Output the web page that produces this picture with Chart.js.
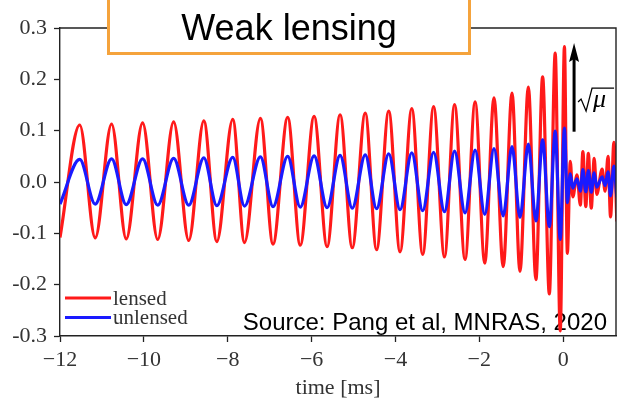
<!DOCTYPE html>
<html lang="en">
<head>
<meta charset="UTF-8">
<title>Weak lensing</title>
<script src="https://cdn.jsdelivr.net/npm/chart.js"></script>
<style>
  html, body { margin: 0; padding: 0; background: #ffffff; }
  #wrap { width: 625px; height: 401px; }
</style>
</head>
<body>
<div id="wrap"><canvas id="wave" width="625" height="401"></canvas></div>
<script>
    // turning points of the waveform, time in ms
    const time = [
        -12.00, -11.53, -11.16, -10.77, -10.42, -10.03, -9.67, -9.29, -8.93, -8.57,
        -8.26, -7.88, -7.60, -7.22, -6.92, -6.57, -6.27, -5.94, -5.63, -5.32,
        -5.03, -4.72, -4.45, -4.16, -3.89, -3.61, -3.35, -3.09, -2.83, -2.59,
        -2.34, -2.10, -1.87, -1.65, -1.43, -1.22, -1.03, -0.83, -0.65, -0.49,
        -0.33, -0.19, -0.07, 0.03, 0.10, 0.17, 0.23, 0.33, 0.41, 0.47,
        0.54, 0.60, 0.67, 0.74, 0.80, 0.93, 1.00, 1.07, 1.13, 1.21, 1.28
    ];
    const lensed = [
        -0.108, 0.111, -0.109, 0.113, -0.111, 0.115, -0.112, 0.117, -0.114, 0.119,
        -0.116, 0.122, -0.118, 0.124, -0.121, 0.126, -0.123, 0.128, -0.126, 0.131,
        -0.128, 0.134, -0.132, 0.138, -0.136, 0.143, -0.141, 0.147, -0.146, 0.151,
        -0.151, 0.156, -0.158, 0.164, -0.165, 0.173, -0.174, 0.185, -0.190, 0.205,
        -0.218, 0.251, -0.290, 0.264, -0.139, 0.040, -0.029, 0.014, -0.045, 0.059,
        -0.048, 0.056, -0.051, 0.046, -0.024, 0.025, -0.018, 0.050, -0.068, 0.077, -0.077
    ];
    const unlensed = [
        -0.043, 0.044, -0.043, 0.045, -0.044, 0.045, -0.045, 0.046, -0.045, 0.047,
        -0.046, 0.048, -0.047, 0.049, -0.048, 0.050, -0.049, 0.051, -0.050, 0.052,
        -0.051, 0.053, -0.052, 0.055, -0.054, 0.057, -0.056, 0.058, -0.058, 0.060,
        -0.060, 0.062, -0.063, 0.065, -0.066, 0.069, -0.069, 0.074, -0.076, 0.082,
        -0.087, 0.099, -0.112, 0.105, -0.040, 0.016, -0.012, 0.006, -0.018, 0.024,
        -0.019, 0.022, -0.020, 0.018, -0.010, 0.010, -0.007, 0.020, -0.027, 0.031, -0.030
    ];

    const xTicks = [-12, -10, -8, -6, -4, -2, 0];
    const xTickLabels = ['\u221212', '\u221210', '\u22128', '\u22126', '\u22124', '\u22122', '0'];
    const yTicks = [-0.3, -0.2, -0.1, 0.0, 0.1, 0.2, 0.3];
    const yTickLabels = ['-0.3', '-0.2', '-0.1', '0.0', '0.1', '0.2', '0.3'];

    const serif = '"Liberation Serif", "DejaVu Serif", serif';
    const sans = '"Liberation Sans", Arial, sans-serif';

    // top + right edges of the box around the plot
    const framePlugin = {
        id: 'frame',
        afterDatasetsDraw(chart) {
            const { ctx, chartArea: a } = chart;
            ctx.save();
            ctx.strokeStyle = '#222';
            ctx.lineWidth = 1.4;
            ctx.beginPath();
            ctx.moveTo(a.left, a.top);
            ctx.lineTo(a.right, a.top);
            ctx.lineTo(a.right, a.bottom);
            ctx.stroke();
            ctx.restore();
        }
    };

    // source note sits under the curves
    const sourcePlugin = {
        id: 'source',
        beforeDatasetsDraw(chart) {
            const { ctx, chartArea: a } = chart;
            ctx.save();
            ctx.font = '24px ' + sans;
            ctx.fillStyle = '#000';
            ctx.textAlign = 'right';
            ctx.textBaseline = 'alphabetic';
            ctx.fillText('Source: Pang et al, MNRAS, 2020', a.right - 9, a.bottom - 6);
            ctx.restore();
        }
    };

    // legend, sqrt(mu) arrow and the title box
    const overlayPlugin = {
        id: 'overlay',
        afterDraw(chart) {
            const { ctx, chartArea: a, scales } = chart;
            ctx.save();

            // legend in the lower left corner
            ctx.font = '21px ' + serif;
            ctx.textBaseline = 'middle';
            ctx.textAlign = 'left';
            chart.data.datasets.forEach((ds, i) => {
                const y = a.bottom - 38 + i * 19.5;
                ctx.strokeStyle = ds.borderColor;
                ctx.lineWidth = 3;
                ctx.beginPath();
                ctx.moveTo(a.left + 5, y);
                ctx.lineTo(a.left + 51, y);
                ctx.stroke();
                ctx.fillStyle = '#333';
                ctx.fillText(ds.label, a.left + 53, y + 1);
            });

            // arrow showing the magnification
            const px = scales.x.getPixelForValue(0.26);
            const yLow = scales.y.getPixelForValue(0.098);
            const yTip = scales.y.getPixelForValue(0.271);
            ctx.strokeStyle = '#000';
            ctx.fillStyle = '#000';
            ctx.lineWidth = 3;
            ctx.beginPath();
            ctx.moveTo(px, yLow);
            ctx.lineTo(px, yTip + 14);
            ctx.stroke();
            ctx.beginPath();
            ctx.moveTo(px, yTip);
            ctx.lineTo(px - 5, yTip + 19);
            ctx.lineTo(px, yTip + 16);
            ctx.lineTo(px + 5, yTip + 19);
            ctx.closePath();
            ctx.fill();

            // sqrt(mu) label
            const rx = px + 4;
            const oy = scales.y.getPixelForValue(0.183);
            ctx.lineWidth = 1.3;
            ctx.beginPath();
            ctx.moveTo(rx, oy + 14);
            ctx.lineTo(rx + 3, oy + 11);
            ctx.lineTo(rx + 8, oy + 23);
            ctx.lineTo(rx + 14, oy);
            ctx.lineTo(rx + 36, oy);
            ctx.stroke();
            ctx.font = 'italic 26px ' + serif;
            ctx.textBaseline = 'alphabetic';
            ctx.fillText('\u03bc', rx + 15, oy + 19);

            // title box
            ctx.fillStyle = '#ffffff';
            ctx.fillRect(107, -5, 364, 60);
            ctx.strokeStyle = '#F5A33C';
            ctx.lineWidth = 3;
            ctx.strokeRect(108.5, -5, 361, 58.5);
            ctx.fillStyle = '#000';
            ctx.font = '36px ' + sans;
            ctx.textAlign = 'center';
            ctx.fillText('Weak lensing', 289, 40);

            ctx.restore();
        }
    };

    const ctx = document.getElementById('wave').getContext('2d');
    new Chart(ctx, {
        type: 'line',
        data: {
            datasets: [
                {
                    label: 'lensed',
                    data: time.map((t, i) => ({ x: t, y: lensed[i] })),
                    borderColor: '#ff1a1a',
                    borderWidth: 3.2,
                    pointRadius: 0,
                    cubicInterpolationMode: 'monotone',
                    order: 2
                },
                {
                    label: 'unlensed',
                    data: time.map((t, i) => ({ x: t, y: unlensed[i] })),
                    borderColor: '#1a1aff',
                    borderWidth: 3.2,
                    pointRadius: 0,
                    cubicInterpolationMode: 'monotone',
                    order: 1
                }
            ]
        },
        options: {
            responsive: false,
            animation: false,
            layout: { padding: { top: 28, right: 9, left: 0, bottom: 0 } },
            plugins: {
                legend: { display: false },
                tooltip: { enabled: false }
            },
            scales: {
                x: {
                    type: 'linear',
                    min: -12,
                    max: 1.26,
                    afterFit: (axis) => { axis.height = 65; },
                    afterBuildTicks: (axis) => { axis.ticks = xTicks.map(v => ({ value: v })); },
                    grid: { drawOnChartArea: false, drawTicks: true, tickLength: 6, tickColor: '#222', tickWidth: 1.3 },
                    border: { display: true, color: '#222', width: 1.4 },
                    ticks: {
                        color: '#333',
                        font: { family: serif, size: 22 },
                        padding: 5,
                        maxRotation: 0,
                        callback: (v) => xTickLabels[xTicks.indexOf(v)]
                    },
                    title: {
                        display: true,
                        text: 'time [ms]',
                        color: '#333',
                        font: { family: serif, size: 22 },
                        padding: { top: 0, bottom: 0 }
                    }
                },
                y: {
                    type: 'linear',
                    min: -0.3,
                    max: 0.3,
                    afterFit: (axis) => { axis.width = 60; },
                    afterBuildTicks: (axis) => { axis.ticks = yTicks.map(v => ({ value: v })); },
                    grid: { drawOnChartArea: false, drawTicks: true, tickLength: 6, tickColor: '#222', tickWidth: 1.3 },
                    border: { display: true, color: '#222', width: 1.4 },
                    ticks: {
                        color: '#333',
                        font: { family: serif, size: 22 },
                        padding: 7,
                        callback: (v) => yTickLabels[yTicks.indexOf(v)]
                    }
                }
            }
        },
        plugins: [framePlugin, sourcePlugin, overlayPlugin]
    });
</script>
</body>
</html>
